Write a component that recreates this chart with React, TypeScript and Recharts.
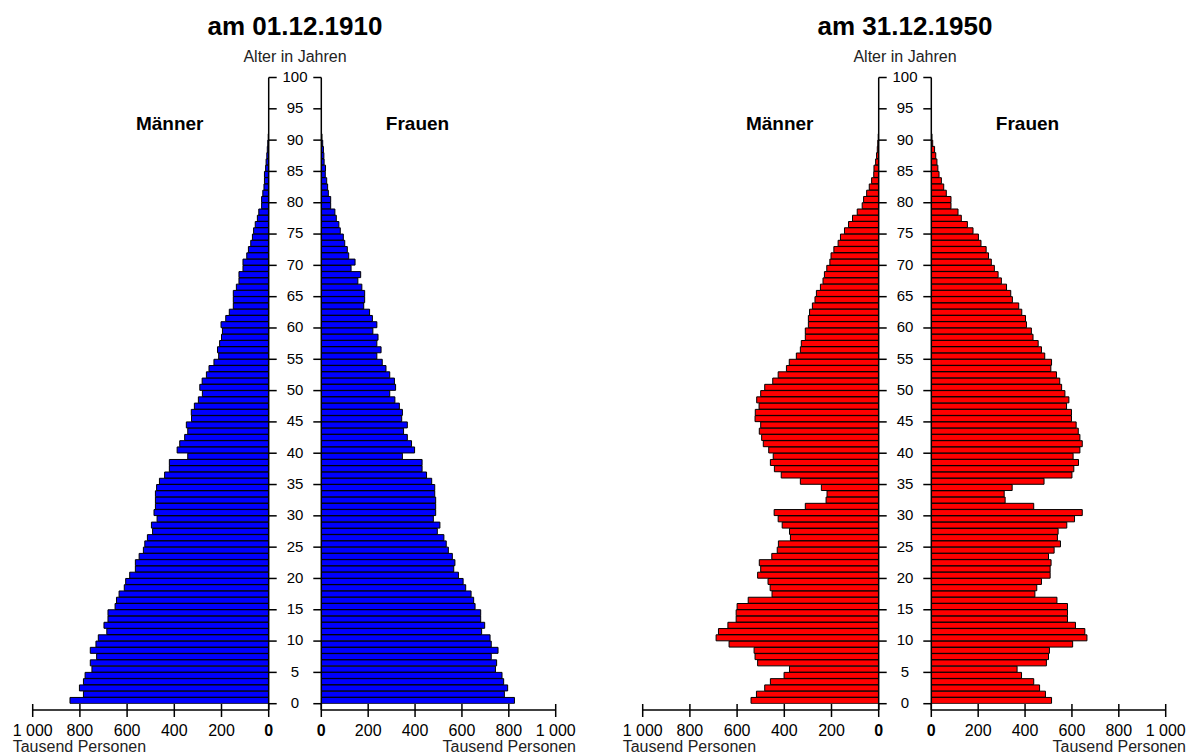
import React from 'react';
import { BarChart, Bar, XAxis, YAxis } from 'recharts';

// ---------- data ----------
const AGES = [
  0, 1, 2, 3, 4, 5, 6, 7, 8, 9, 10, 11, 12, 13, 14, 15, 16, 17, 18, 19,
  20, 21, 22, 23, 24, 25, 26, 27, 28, 29, 30, 31, 32, 33, 34, 35, 36, 37, 38, 39,
  40, 41, 42, 43, 44, 45, 46, 47, 48, 49, 50, 51, 52, 53, 54, 55, 56, 57, 58, 59,
  60, 61, 62, 63, 64, 65, 66, 67, 68, 69, 70, 71, 72, 73, 74, 75, 76, 77, 78, 79,
  80, 81, 82, 83, 84, 85, 86, 87, 88, 89, 90,
];
const AGE_TICKS = [0, 5, 10, 15, 20, 25, 30, 35, 40, 45, 50, 55, 60, 65, 70, 75, 80, 85, 90, 95, 100];
const VALUE_TICKS = [0, 200, 400, 600, 800, 1000];

// Tausend Personen, index = age in years
const MEN_1910 = [
  842, 785, 802, 785, 778, 749, 756, 729, 756, 732,
  722, 686, 698, 681, 681, 651, 645, 634, 612, 606,
  589, 565, 565, 549, 531, 525, 514, 492, 497, 473,
  486, 480, 480, 480, 475, 463, 441, 421, 421, 343,
  388, 377, 356, 343, 349, 327, 328, 315, 298, 281,
  292, 282, 264, 253, 232, 212, 217, 208, 200, 196,
  202, 182, 167, 150, 150, 150, 137, 126, 126, 109,
  109, 93, 86, 76, 69, 64, 57, 48, 42, 30,
  30, 25, 20, 18, 18, 13, 11, 8, 6, 4, 2,
];
const WOMEN_1910 = [
  824, 781, 795, 778, 771, 743, 748, 725, 754, 725,
  720, 684, 697, 680, 680, 656, 650, 639, 616, 605,
  585, 565, 570, 559, 542, 533, 523, 495, 506, 478,
  488, 488, 488, 484, 484, 471, 449, 430, 430, 346,
  398, 385, 367, 351, 367, 343, 346, 333, 314, 292,
  317, 312, 292, 276, 260, 237, 255, 237, 242, 220,
  237, 218, 206, 181, 185, 185, 173, 156, 168, 127,
  144, 117, 111, 100, 94, 81, 75, 64, 58, 40,
  40, 30, 27, 23, 17, 18, 12, 11, 9, 6, 3,
];
const MEN_1950 = [
  541, 518, 483, 459, 401, 378, 513, 524, 528, 634,
  689, 679, 639, 604, 604, 600, 553, 452, 460, 469,
  513, 500, 506, 453, 430, 425, 374, 378, 409, 426,
  443, 311, 223, 219, 243, 332, 413, 442, 459, 447,
  466, 489, 496, 506, 500, 524, 523, 507, 517, 500,
  483, 449, 426, 391, 379, 349, 332, 328, 311, 311,
  298, 298, 293, 281, 270, 264, 247, 236, 230, 220,
  207, 202, 190, 172, 162, 145, 128, 111, 91, 70,
  64, 51, 40, 30, 21, 20, 13, 9, 6, 4, 2,
];
const WOMEN_1950 = [
  513, 487, 462, 437, 385, 366, 491, 500, 504, 603,
  664, 655, 615, 581, 581, 581, 536, 442, 450, 470,
  507, 507, 511, 500, 524, 551, 538, 541, 578, 611,
  644, 437, 315, 311, 345, 481, 600, 608, 628, 605,
  634, 644, 634, 627, 618, 598, 598, 577, 587, 570,
  556, 548, 534, 510, 513, 484, 470, 456, 434, 427,
  406, 402, 386, 373, 346, 339, 321, 299, 285, 269,
  256, 244, 234, 212, 201, 178, 154, 128, 114, 84,
  84, 64, 53, 43, 33, 28, 24, 19, 14, 6, 3,
];

const TITLES = ['am 01.12.1910', 'am 31.12.1950'];
const AXIS_TITLE = 'Alter in Jahren';
const MEN_LABEL = 'Männer';
const WOMEN_LABEL = 'Frauen';
const UNIT_LABEL = 'Tausend Personen';

// ---------- layout ----------
const FONT = '"Liberation Sans", Arial, Helvetica, sans-serif';
const H = 756;
const PLOT_TOP = 77.5;
const PLOT_BOTTOM = 710;
const AGE0_Y = 703.7;
const MEN_LEFT = 32.7;
const MEN_RIGHT = 268.7;
const WOMEN_LEFT = 321.3;
const WOMEN_RIGHT = 555.7;
const MEN_SVG_W = 330;
const WOMEN_SVG_X = 290;
const WOMEN_SVG_W = 290;
const CENTER_X = (MEN_RIGHT + WOMEN_LEFT) / 2;
const PYRAMID_OFFSETS = [0, 610];

const fmtValue = (v: number) => (v >= 1000 ? `${Math.floor(v / 1000)} ${String(v % 1000).padStart(3, '0')}` : String(v));

const XTick = (props: any) => {
  const { x, y, payload } = props;
  const v = payload.value as number;
  return (
    <g>
      <line x1={x} x2={x} y1={y - 6} y2={y + 7} stroke="#000" strokeWidth={1.5} />
      <text
        x={x}
        y={y + 26}
        textAnchor="middle"
        fontSize={16}
        fontFamily={FONT}
        fontWeight={v === 0 ? 'bold' : 'normal'}
        fill="#000"
      >
        {fmtValue(v)}
      </text>
    </g>
  );
};

const AgeTick = (props: any) => {
  const { x, y, payload } = props;
  return (
    <text
      x={x + (CENTER_X - MEN_RIGHT - 8)}
      y={y - 1}
      dy="0.36em"
      textAnchor="middle"
      fontSize={15}
      fontFamily={FONT}
      fill="#000"
    >
      {payload.value}
    </text>
  );
};

const EmptyTick = () => <g />;

type HalfProps = { values: number[]; color: string; men: boolean; left: number };

function Half({ values, color, men, left }: HalfProps) {
  const data = AGES.map((age, i) => ({ age, pos: age + 0.5, v: values[i] }));
  const width = men ? MEN_SVG_W : WOMEN_SVG_W;
  const margin = men
    ? { top: PLOT_TOP, right: 0, bottom: 0, left: MEN_LEFT }
    : { top: PLOT_TOP, right: WOMEN_SVG_X + WOMEN_SVG_W - WOMEN_RIGHT, bottom: 0, left: 0 };
  return (
    <div style={{ position: 'absolute', left, top: 0 }}>
      <BarChart
        width={width}
        height={H}
        data={data}
        layout="vertical"
        margin={margin}
        barCategoryGap={0}
        barGap={0}
      >
        <XAxis
          type="number"
          domain={[0, 1000]}
          ticks={VALUE_TICKS}
          reversed={men}
          interval={0}
          tickSize={0}
          tickMargin={0}
          height={H - PLOT_BOTTOM}
          axisLine={{ stroke: '#000', strokeWidth: 1.5 }}
          tickLine={false}
          tick={<XTick />}
          allowDataOverflow
        />
        <YAxis
          type="number"
          dataKey="pos"
          domain={[0, 100]}
          reversed
          ticks={AGE_TICKS}
          interval={0}
          orientation={men ? 'right' : 'left'}
          width={men ? MEN_SVG_W - MEN_RIGHT : WOMEN_LEFT - WOMEN_SVG_X}
          padding={{ top: 0, bottom: PLOT_BOTTOM - AGE0_Y }}
          tickSize={8}
          tickMargin={0}
          axisLine={{ stroke: '#000', strokeWidth: 1.5 }}
          tickLine={{ stroke: '#000', strokeWidth: 1.5 }}
          tick={men ? <AgeTick /> : <EmptyTick />}
          allowDataOverflow
        />
        <Bar dataKey="v" fill={color} stroke="#000" strokeWidth={1} isAnimationActive={false} />
      </BarChart>
    </div>
  );
}

function Pyramid({ offset, men, women, color, title }: { offset: number; men: number[]; women: number[]; color: string; title: string }) {
  return (
    <div style={{ position: 'absolute', left: offset, top: 0, width: 590, height: H }}>
      <Half values={men} color={color} men={true} left={0} />
      <Half values={women} color={color} men={false} left={WOMEN_SVG_X} />
      <svg width={590} height={H} style={{ position: 'absolute', left: 0, top: 0, pointerEvents: 'none' }}>
        <text x={CENTER_X} y={35} textAnchor="middle" fontSize={26} fontWeight="bold" fontFamily={FONT} fill="#000">
          {title}
        </text>
        <text x={CENTER_X} y={61.5} textAnchor="middle" fontSize={16} fontFamily={FONT} fill="#222">
          {AXIS_TITLE}
        </text>
        <text x={169.7} y={129.5} textAnchor="middle" fontSize={19} fontWeight="bold" fontFamily={FONT} fill="#000">
          {MEN_LABEL}
        </text>
        <text x={417.5} y={129.5} textAnchor="middle" fontSize={19} fontWeight="bold" fontFamily={FONT} fill="#000">
          {WOMEN_LABEL}
        </text>
        <text x={12.7} y={752} textAnchor="start" fontSize={16} fontFamily={FONT} fill="#222">
          {UNIT_LABEL}
        </text>
        <text x={576} y={752} textAnchor="end" fontSize={16} fontFamily={FONT} fill="#222">
          {UNIT_LABEL}
        </text>
      </svg>
    </div>
  );
}

export default function App() {
  return (
    <div
      style={{
        position: 'absolute',
        left: 0,
        top: 0,
        width: 1193,
        height: H,
        background: '#fff',
        overflow: 'hidden',
        fontFamily: FONT,
      }}
    >
      <Pyramid offset={PYRAMID_OFFSETS[0]} men={MEN_1910} women={WOMEN_1910} color="#0000ff" title={TITLES[0]} />
      <Pyramid offset={PYRAMID_OFFSETS[1]} men={MEN_1950} women={WOMEN_1950} color="#ff0000" title={TITLES[1]} />
    </div>
  );
}
